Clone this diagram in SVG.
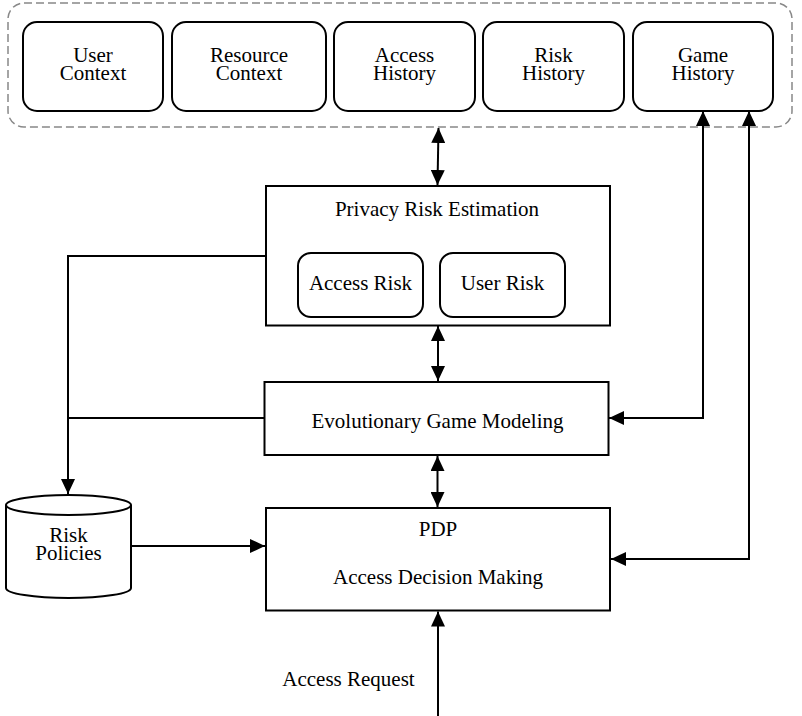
<svg xmlns="http://www.w3.org/2000/svg" width="802" height="716" viewBox="0 0 802 716">
  <defs>
    <marker id="ah" markerUnits="userSpaceOnUse" markerWidth="15" markerHeight="14" refX="15" refY="7" orient="auto-start-reverse" viewBox="0 0 15 14">
      <path d="M0,0 L15,7 L0,14 Z" fill="#000"/>
    </marker>
  </defs>
  <style>
    .box { fill: #fff; stroke: #000; stroke-width: 2; }
    .t { font-family: "Liberation Serif", "Times New Roman", serif; font-size: 21px; fill: #000; text-anchor: middle; }
    .ln { fill: none; stroke: #000; stroke-width: 2; }
    .arr { fill: none; stroke: #000; stroke-width: 2; marker-end: url(#ah); }
    .darr { fill: none; stroke: #000; stroke-width: 2; marker-start: url(#ah); marker-end: url(#ah); }
  </style>
  <rect width="802" height="716" fill="#fff"/>

  <g id="container">
    <rect x="8" y="3" width="784" height="124" rx="16" ry="16" fill="none" stroke="#888" stroke-width="1.5" stroke-dasharray="8 4"/>
  </g>

  <g id="user-context">
    <rect class="box" x="23" y="22" width="140" height="89" rx="14" ry="14"/>
    <text class="t" x="93" y="62">User</text>
    <text class="t" x="93" y="80">Context</text>
  </g>
  <g id="resource-context">
    <rect class="box" x="172" y="22" width="154" height="89" rx="14" ry="14"/>
    <text class="t" x="249" y="62">Resource</text>
    <text class="t" x="249" y="80">Context</text>
  </g>
  <g id="access-history">
    <rect class="box" x="334" y="22" width="141" height="89" rx="14" ry="14"/>
    <text class="t" x="404.5" y="62">Access</text>
    <text class="t" x="404.5" y="80">History</text>
  </g>
  <g id="risk-history">
    <rect class="box" x="483" y="22" width="141" height="89" rx="14" ry="14"/>
    <text class="t" x="553.5" y="62">Risk</text>
    <text class="t" x="553.5" y="80">History</text>
  </g>
  <g id="game-history">
    <rect class="box" x="633" y="22" width="140" height="89" rx="14" ry="14"/>
    <text class="t" x="703" y="62">Game</text>
    <text class="t" x="703" y="80">History</text>
  </g>

  <g id="privacy-risk-estimation">
    <rect class="box" x="266" y="186" width="344" height="139.5"/>
    <text class="t" x="437" y="216">Privacy Risk Estimation</text>
  </g>
  <g id="access-risk">
    <rect class="box" x="298" y="253" width="125" height="64" rx="13" ry="13"/>
    <text class="t" x="360.5" y="289.5">Access Risk</text>
  </g>
  <g id="user-risk">
    <rect class="box" x="440" y="253" width="125" height="64" rx="13" ry="13"/>
    <text class="t" x="502.5" y="289.5">User Risk</text>
  </g>

  <g id="evolutionary-game-modeling">
    <rect class="box" x="264.5" y="382" width="344" height="73"/>
    <text class="t" x="437.5" y="428">Evolutionary Game Modeling</text>
  </g>

  <g id="pdp">
    <rect class="box" x="266" y="508" width="344" height="102.5"/>
    <text class="t" x="438" y="536">PDP</text>
    <text class="t" x="438" y="584">Access Decision Making</text>
  </g>

  <g id="risk-policies">
    <path class="box" d="M6,505 A62.5,10 0 0 1 131,505 L131,588 A62.5,10 0 0 1 6,588 Z"/>
    <path class="ln" d="M6,505 A62.5,10 0 0 0 131,505"/>
    <text class="t" x="68.5" y="542">Risk</text>
    <text class="t" x="68.5" y="560">Policies</text>
  </g>

  <g id="access-request-label">
    <text class="t" x="348.5" y="686">Access Request</text>
  </g>

  <g id="connectors">
    <path class="darr" d="M438.5,128 L437.5,185"/>
    <path class="darr" d="M438,326 L438,381"/>
    <path class="darr" d="M437.5,456 L437.5,507"/>
    <path class="ln" d="M266,256 L68,256 L68,418"/>
    <path class="ln" d="M264.5,418 L68,418"/>
    <path class="arr" d="M68,418 L68,494"/>
    <path class="arr" d="M131,546 L265,546"/>
    <path class="arr" d="M438,716 L438,611.5"/>
    <path class="darr" d="M609,418 L703,418 L703,111"/>
    <path class="darr" d="M611,559 L749,559 L749,111"/>
  </g>
</svg>
